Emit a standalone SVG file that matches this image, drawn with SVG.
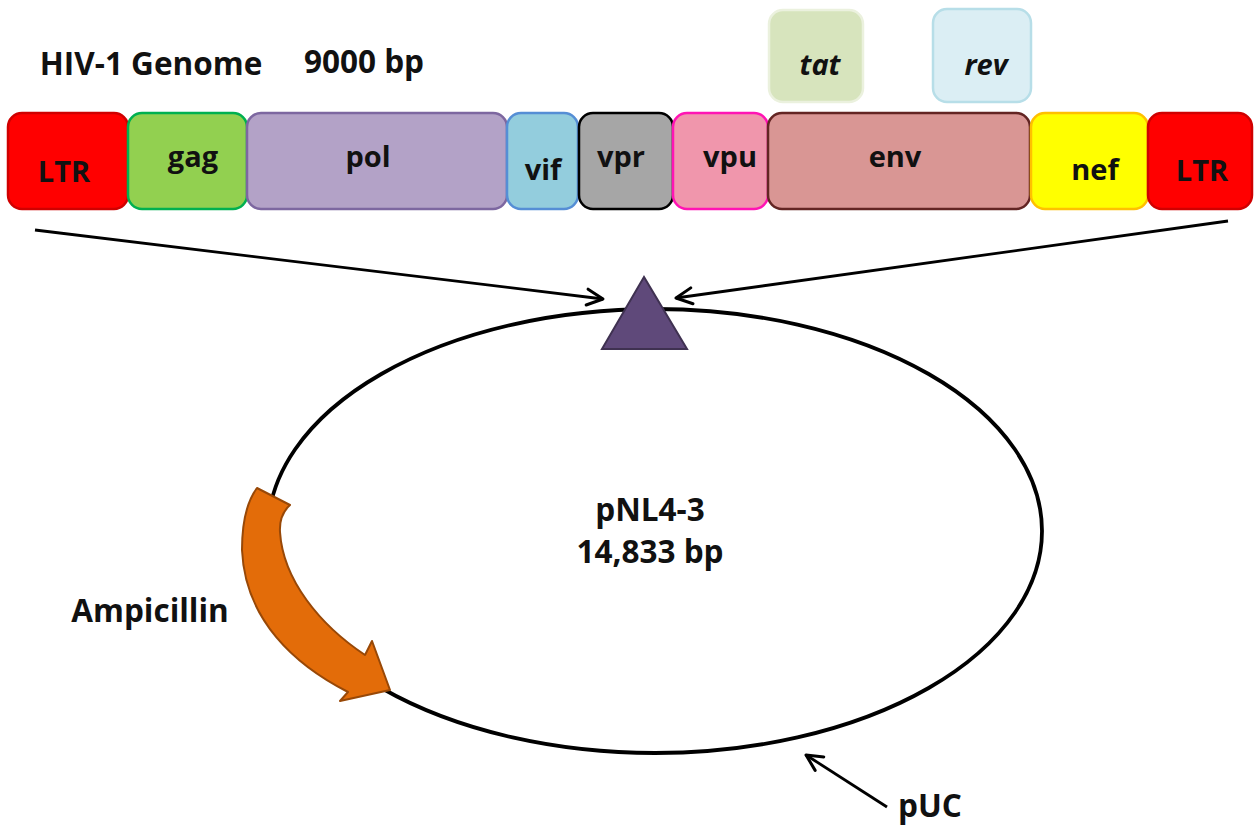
<svg xmlns="http://www.w3.org/2000/svg" width="1255" height="828" viewBox="0 0 1255 828">
<defs>
<style>
text{font-family:"Open Sans","Liberation Sans",sans-serif;font-weight:bold;fill:#111;text-anchor:middle}
.gene{stroke-width:2.5}
.lbl{font-size:29px}
.big{font-size:31.5px}
.it{font-style:italic}
.conn{stroke:#000;stroke-width:2.8;fill:none}
</style>
<marker id="open" viewBox="0 0 20 20" refX="18" refY="10" markerWidth="20" markerHeight="20" markerUnits="userSpaceOnUse" orient="auto">
<polyline points="2,2 18,10 2,18" fill="none" stroke="#000" stroke-width="3" stroke-linecap="round" stroke-linejoin="round"/>
</marker>
</defs>
<rect width="1255" height="828" fill="#fff"/>

<g id="title">
<text x="151" y="75" class="big" fill="#222">HIV-1 Genome</text>
<text x="364" y="73" class="big">9000 bp</text>
</g>

<g id="tat"><rect x="769" y="10" width="94" height="92" rx="14" fill="#D7E4BD" stroke="#EBF1DE" class="gene"/><text x="820" y="75" class="lbl it">tat</text></g>
<g id="rev"><rect x="933" y="9" width="98" height="93" rx="14" fill="#DBEEF4" stroke="#B7DEE8" class="gene"/><text x="986" y="75" class="lbl it">rev</text></g>

<g id="ltr1"><rect x="8" y="113" width="120" height="96" rx="14" fill="#FF0000" stroke="#D00000" class="gene"/><text x="64" y="182" class="lbl">LTR</text></g>
<g id="gag"><rect x="128" y="113" width="119" height="96" rx="14" fill="#92D050" stroke="#00B050" class="gene"/><text x="193" y="167" class="lbl">gag</text></g>
<g id="pol"><rect x="247" y="113" width="260" height="96" rx="14" fill="#B3A2C7" stroke="#7D67A0" class="gene"/><text x="368" y="167" class="lbl">pol</text></g>
<g id="vif"><rect x="507" y="113" width="71" height="96" rx="14" fill="#93CDDD" stroke="#558ED5" class="gene"/><text x="543" y="180" class="lbl">vif</text></g>
<g id="vpr"><rect x="579" y="113" width="94" height="96" rx="14" fill="#A6A6A6" stroke="#000" class="gene"/><text x="621" y="167" class="lbl">vpr</text></g>
<g id="vpu"><rect x="673" y="113" width="95" height="96" rx="14" fill="#F096AC" stroke="#FF14B4" class="gene"/><text x="730" y="167" class="lbl">vpu</text></g>
<g id="env"><rect x="768" y="113" width="262" height="96" rx="14" fill="#D99694" stroke="#632523" class="gene"/><text x="895" y="167" class="lbl">env</text></g>
<g id="nef"><rect x="1031" y="113" width="117" height="96" rx="14" fill="#FFFF00" stroke="#FFC000" class="gene"/><text x="1095" y="180" class="lbl">nef</text></g>
<g id="ltr2"><rect x="1148" y="113" width="104" height="96" rx="14" fill="#FF0000" stroke="#D00000" class="gene"/><text x="1202" y="181" class="lbl">LTR</text></g>

<g id="plasmid">
<ellipse cx="655" cy="531" rx="387" ry="222" fill="none" stroke="#000" stroke-width="3.8"/>
<text x="650" y="521" class="big">pNL4-3</text>
<text x="650" y="563" class="big">14,833 bp</text>
</g>

<g id="insert">
<polygon points="644,277 602,349 687,349" fill="#5F497A" stroke="#3F3151" stroke-width="2"/>
</g>

<g id="ampicillin">
<path d="M257,488 L290,505 Q279,515 280,532 C283,580 320,625 365,655 L372,641 L390,690 L340,701 L348,692 C295,665 245,620 242,550 C242,520 248,500 257,488 Z" fill="#E36C09" stroke="#984807" stroke-width="2" stroke-linejoin="round"/>
<text x="150" y="622" class="big">Ampicillin</text>
</g>

<g id="puc">
<text x="930" y="817" class="big">pUC</text>
</g>

<g id="connectors">
<line x1="35" y1="230" x2="603" y2="299" class="conn" marker-end="url(#open)"/>
<line x1="1228" y1="221" x2="676" y2="298" class="conn" marker-end="url(#open)"/>
<line x1="887" y1="807" x2="806" y2="755" class="conn" marker-end="url(#open)"/>
</g>
</svg>
